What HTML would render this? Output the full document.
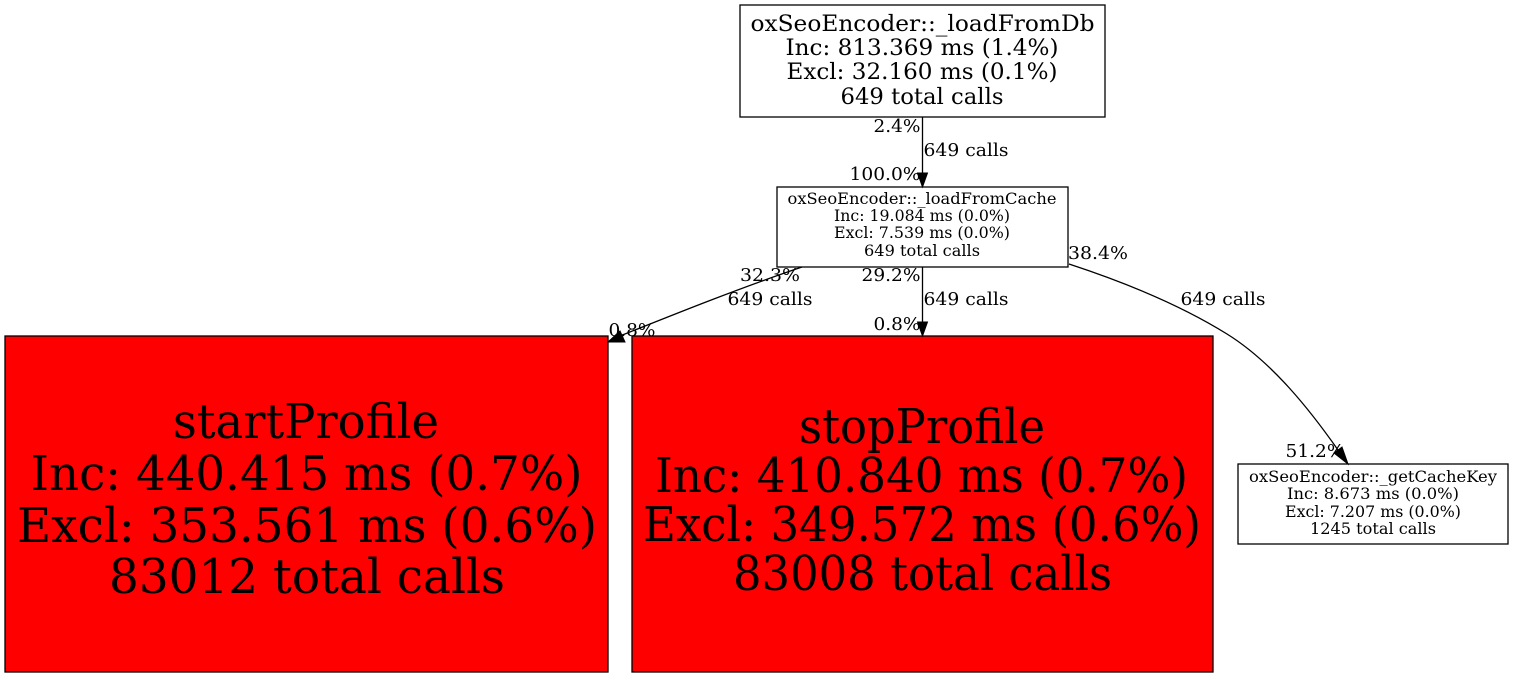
<!DOCTYPE html>
<html><head><meta charset="utf-8"><style>
html,body{margin:0;padding:0;background:#fff;width:1513px;height:677px;overflow:hidden}
svg{display:block}
text{font-family:"DejaVu Serif",serif;fill:#000;text-anchor:middle}
.a{font-size:22.4px}
.b{font-size:15.6px}
.c{font-size:47.4px}
.l{font-size:18px}
rect{stroke:#000;stroke-width:1.3}
path.e{fill:none;stroke:#000;stroke-width:1.3}
polygon{fill:#000;stroke:#000}
</style></head><body>
<svg width="1513" height="677" viewBox="0 0 1513 677" xmlns="http://www.w3.org/2000/svg">
<rect x="740" y="5" width="365" height="112" fill="#fff"/>
<text class="a" x="922.5" y="31" textLength="344" lengthAdjust="spacingAndGlyphs">oxSeoEncoder::_loadFromDb</text>
<text class="a" x="922" y="55" textLength="273" lengthAdjust="spacingAndGlyphs">Inc: 813.369 ms (1.4%)</text>
<text class="a" x="922" y="79" textLength="271" lengthAdjust="spacingAndGlyphs">Excl: 32.160 ms (0.1%)</text>
<text class="a" x="922" y="104" textLength="163" lengthAdjust="spacingAndGlyphs">649 total calls</text>

<rect x="777" y="187" width="291" height="80" fill="#fff"/>
<text class="b" x="922" y="204" textLength="269" lengthAdjust="spacingAndGlyphs">oxSeoEncoder::_loadFromCache</text>
<text class="b" x="922" y="221" textLength="176" lengthAdjust="spacingAndGlyphs">Inc: 19.084 ms (0.0%)</text>
<text class="b" x="922" y="238" textLength="176" lengthAdjust="spacingAndGlyphs">Excl: 7.539 ms (0.0%)</text>
<text class="b" x="922" y="256" textLength="116" lengthAdjust="spacingAndGlyphs">649 total calls</text>

<rect x="5" y="336" width="603" height="336" fill="#f00"/>
<text class="c" x="306" y="438" textLength="266" lengthAdjust="spacingAndGlyphs">startProfile</text>
<text class="c" x="306.5" y="490" textLength="552" lengthAdjust="spacingAndGlyphs">Inc: 440.415 ms (0.7%)</text>
<text class="c" x="307" y="542" textLength="580" lengthAdjust="spacingAndGlyphs">Excl: 353.561 ms (0.6%)</text>
<text class="c" x="307" y="593" textLength="396" lengthAdjust="spacingAndGlyphs">83012 total calls</text>

<rect x="632" y="336" width="581" height="336" fill="#f00"/>
<text class="c" x="922" y="443" textLength="246" lengthAdjust="spacingAndGlyphs">stopProfile</text>
<text class="c" x="921.5" y="492" textLength="533" lengthAdjust="spacingAndGlyphs">Inc: 410.840 ms (0.7%)</text>
<text class="c" x="922" y="541" textLength="558" lengthAdjust="spacingAndGlyphs">Excl: 349.572 ms (0.6%)</text>
<text class="c" x="922.5" y="590" textLength="379" lengthAdjust="spacingAndGlyphs">83008 total calls</text>

<rect x="1238" y="464" width="270" height="80" fill="#fff"/>
<text class="b" x="1373" y="482" textLength="248" lengthAdjust="spacingAndGlyphs">oxSeoEncoder::_getCacheKey</text>
<text class="b" x="1373" y="499" textLength="172" lengthAdjust="spacingAndGlyphs">Inc: 8.673 ms (0.0%)</text>
<text class="b" x="1373" y="517" textLength="176" lengthAdjust="spacingAndGlyphs">Excl: 7.207 ms (0.0%)</text>
<text class="b" x="1373" y="534" textLength="126" lengthAdjust="spacingAndGlyphs">1245 total calls</text>

<path class="e" d="M922.5 117V176"/>
<polygon points="917.5,173 927.5,173 922.5,187"/>
<text class="l" x="897" y="132" textLength="47" lengthAdjust="spacingAndGlyphs">2.4%</text>
<text class="l" x="966" y="156" textLength="85" lengthAdjust="spacingAndGlyphs">649 calls</text>
<text class="l" x="885" y="180" textLength="71" lengthAdjust="spacingAndGlyphs">100.0%</text>

<path class="e" d="M802 267C740 288 680 312 620 336"/>
<polygon points="608,342 620,331 625,342"/>
<text class="l" x="770" y="281" textLength="60" lengthAdjust="spacingAndGlyphs">32.3%</text>
<text class="l" x="770" y="305" textLength="85" lengthAdjust="spacingAndGlyphs">649 calls</text>
<text class="l" x="632" y="336" textLength="47" lengthAdjust="spacingAndGlyphs">0.8%</text>

<path class="e" d="M922.5 267V325"/>
<polygon points="917.5,322 927.5,322 922.5,336"/>
<text class="l" x="891" y="281" textLength="59" lengthAdjust="spacingAndGlyphs">29.2%</text>
<text class="l" x="966" y="305" textLength="85" lengthAdjust="spacingAndGlyphs">649 calls</text>
<text class="l" x="897" y="330" textLength="47" lengthAdjust="spacingAndGlyphs">0.8%</text>

<path class="e" d="M1069 264C1130 284 1182 306 1227 334C1272 362 1310 410 1338 450"/>
<polygon points="1334,453 1342,447 1348,464"/>
<text class="l" x="1098" y="259" textLength="60" lengthAdjust="spacingAndGlyphs">38.4%</text>
<text class="l" x="1223" y="305" textLength="85" lengthAdjust="spacingAndGlyphs">649 calls</text>
<text class="l" x="1315" y="457" textLength="59" lengthAdjust="spacingAndGlyphs">51.2%</text>
</svg>
</body></html>
